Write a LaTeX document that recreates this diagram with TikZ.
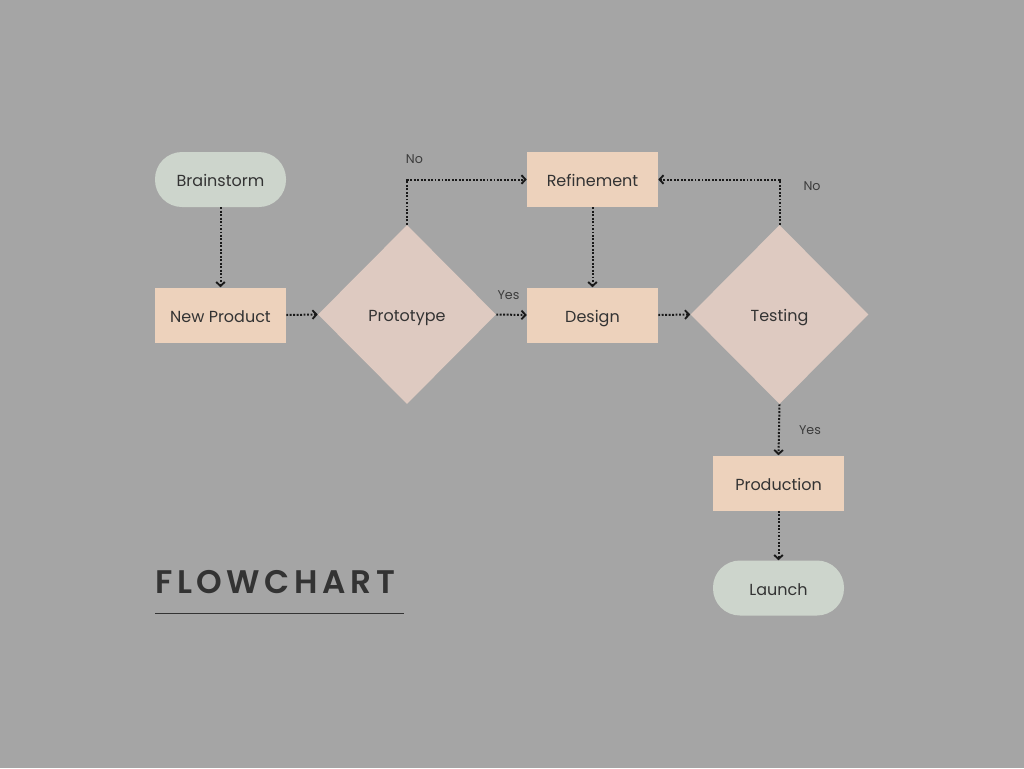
\documentclass[tikz,border=0pt]{standalone}
\usepackage{fontspec}
\setmainfont{Poppins}
\newfontfamily\titlefont[LetterSpace=14]{Poppins SemiBold}
\usetikzlibrary{arrows.meta,shapes.geometric,positioning}
\definecolor{bg}{HTML}{A5A5A5}
\definecolor{peach}{HTML}{EDD2BC}
\definecolor{rosy}{HTML}{DECAC1}
\definecolor{sage}{HTML}{CDD5CC}
\definecolor{ink}{HTML}{333333}
\definecolor{labelgray}{HTML}{3C3C3C}
\tikzset{
  nodetext/.style={text=ink, font=\fontsize{12}{14}\selectfont, text height=12pt, text depth=1.5pt},
  stepbox/.style={rectangle, fill=peach, minimum width=131*0.75pt, minimum height=55*0.75pt,
    inner sep=0pt, nodetext},
  terminal/.style={rectangle, rounded corners=27*0.75pt, fill=sage, minimum width=131*0.75pt,
    minimum height=55*0.75pt, inner sep=0pt, nodetext},
  decision/.style={diamond, aspect=1, fill=rosy, minimum width=178*0.75pt, minimum height=179*0.75pt,
    inner sep=0pt, nodetext},
  flow/.style={draw=black!90, line width=1.5pt, dash pattern=on 1.4pt off 1.2pt,
    -{Straight Barb[length=3pt,width=6.5pt,line width=1.4pt]}},
  answer/.style={text=labelgray, font=\fontsize{9.5}{11}\selectfont, inner sep=0pt},
}
\begin{document}
\begin{tikzpicture}[x=0.75pt, y=-0.75pt]
  \fill[bg] (0,0) rectangle (1024,768);
  \useasboundingbox (0,0) rectangle (1024,768);

  % process nodes
  \node[terminal] (brain) at (220.5,179.5) {Brainstorm};
  \node[stepbox] (newp) at (220.5,315) {New Product};
  \node[decision] (proto) at (407,314.5) {Prototype};
  \node[stepbox] (refine) at (592.5,179.5) {Refinement};
  \node[stepbox] (design) at (592.5,315) {Design};
  \node[decision] (test) at (779.5,314.5) {Testing};
  \node[stepbox] (prod) at (778.5,483) {Production};
  \node[terminal] (launch) at (778.5,588) {Launch};

  % bend points for the feedback loops
  \coordinate (pcorner) at (407,179.5);
  \coordinate (tcorner) at (779.5,179.5);

  % connectors
  \draw[flow] (brain.south) -- (newp.north);
  \draw[flow] (newp.east) -- (proto.west);
  \draw[flow] (proto.east) -- (design.west);
  \draw[flow] (proto.north) -- (pcorner) -- (refine.west);
  \draw[flow] (refine.south) -- (design.north);
  \draw[flow] (design.east) -- (test.west);
  \draw[flow] (test.north) -- (tcorner) -- (refine.east);
  \draw[flow] (test.south) -- (prod.north);
  \draw[flow] (prod.south) -- (launch.north);

  % branch labels
  \node[answer] (noA) at (414.5,159.5) {No};
  \node[answer] (yesA) at (508.5,295.5) {Yes};
  \node[answer] (noB) at (812,186.5) {No};
  \node[answer] (yesB) at (810,430.5) {Yes};

  % title
  \node[anchor=base west, inner sep=0pt, text=ink, font=\titlefont\fontsize{24.5}{28}\selectfont] (title) at (155,593) {FLOWCHART};
  \coordinate (ulA) at (155,613.5);
  \coordinate (ulB) at (404,613.5);
  \draw[ink, line width=1.1pt] (ulA) -- (ulB);
\end{tikzpicture}
\end{document}
